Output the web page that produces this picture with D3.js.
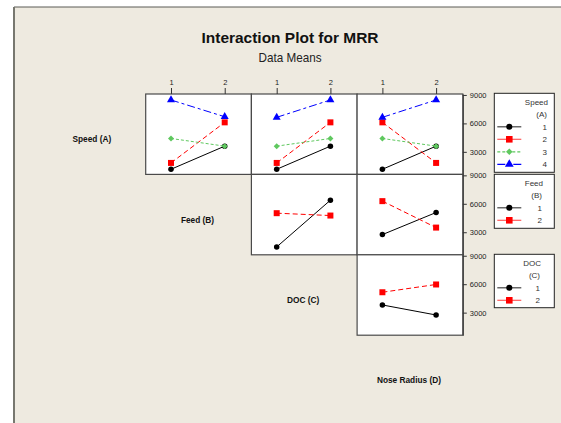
<!DOCTYPE html>
<html>
<head>
<meta charset="utf-8">
<script src="https://cdn.jsdelivr.net/npm/d3@7"></script>
<style>
  html, body { margin: 0; padding: 0; background: #ffffff; }
  svg { display: block; }
  text { font-family: "Liberation Sans", Arial, sans-serif; }
</style>
</head>
<body>
<svg id="chart" width="561" height="423"></svg>
<script>
// ---- data: mean MRR for each pair of factors (levels 1 and 2 on the x axis) ----
const factorNames = ["Speed (A)", "Feed (B)", "DOC (C)", "Nose Radius (D)"];
const xLevels = [1, 2];
const yTicks = [3000, 6000, 9000];

// rows = Speed level 1..4
const speedByFeed  = [[1160, 3600], [1830, 6110], [4410, 3600], [8470, 6700]];
const speedByDoc   = [[1160, 3600], [1830, 6110], [3600, 4410], [6640, 8470]];
const speedByNose  = [[1160, 3600], [6110, 1830], [4410, 3600], [6640, 8470]];
// rows = Feed level 1..2
const feedByDoc    = [[1450, 6380], [5010, 4760]];
const feedByNose   = [[2750, 5080], [6280, 3490]];
// rows = DOC level 1..2
const docByNose    = [[3810, 2750], [5150, 5970]];

const legendTitles = [["Speed", "(A)"], ["Feed", "(B)"], ["DOC", "(C)"]];
const legendLevels = [["1", "2", "3", "4"], ["1", "2"], ["1", "2"]];

// panel table: [row, col, series]
const panels = [
  [0, 0, speedByFeed], [0, 1, speedByDoc], [0, 2, speedByNose],
  [1, 1, feedByDoc],   [1, 2, feedByNose],
  [2, 2, docByNose]
];

// ---- styling for each level of the trace factor ----
const styles = [
  { color: "#000000", dash: null,      symbol: "circle",   key: "#444444", keyDash: null },
  { color: "#ff0000", dash: "5,3",     symbol: "square",   key: "#ff5a5a", keyDash: null },
  { color: "#5fc85f", dash: "3,2",     symbol: "diamond",  key: "#5fc85f", keyDash: "3,2" },
  { color: "#0000ff", dash: "8,3,3,3", symbol: "triangle", key: "#0000ff", keyDash: "8,3,2,3" }
];

const svg = d3.select("#chart");

// page backdrop
svg.append("rect").attr("x", 0).attr("y", 0).attr("width", 561).attr("height", 423).attr("fill", "#ffffff");
svg.append("rect").attr("x", 14).attr("y", 7).attr("width", 547).attr("height", 416).attr("fill", "#eeeae0");
svg.append("line").attr("x1", 14).attr("x2", 561).attr("y1", 7).attr("y2", 7)
  .attr("stroke", "#5a5a55").attr("stroke-width", 1);
svg.append("line").attr("x1", 14).attr("x2", 14).attr("y1", 7).attr("y2", 423)
  .attr("stroke", "#77776f").attr("stroke-width", 2);

// titles
svg.append("text").attr("x", 290).attr("y", 43).attr("text-anchor", "middle")
  .attr("font-size", 15.5).attr("font-weight", "bold").attr("fill", "#111")
  .attr("textLength", 177).attr("lengthAdjust", "spacingAndGlyphs")
  .text("Interaction Plot for MRR");
svg.append("text").attr("x", 290).attr("y", 61.5).attr("text-anchor", "middle")
  .attr("font-size", 13.5).attr("fill", "#222")
  .attr("textLength", 63).attr("lengthAdjust", "spacingAndGlyphs")
  .text("Data Means");

// ---- grid geometry ----
const gridLeft = 145.7, gridTop = 94;
const cellW = 105.7, cellH = 80.4;

const x = d3.scaleLinear().domain([0.529, 2.497]).range([0, cellW]);
const y = d3.scaleLinear().domain([620, 9100]).range([cellH, 0]);

function symbolPath(kind, big) {
  const k = big ? 1.2 : 1;
  if (kind === "circle") return d3.symbol(d3.symbolCircle, 24 * k)();
  if (kind === "square") return d3.symbol(d3.symbolSquare, 36 * k)();
  if (kind === "diamond") return d3.symbol(d3.symbolSquare, 18 * k)();
  return d3.symbol(d3.symbolTriangle, 28 * k)();
}
function symbolRotate(kind) { return kind === "diamond" ? " rotate(45)" : ""; }

const line = d3.line().x((d, i) => x(xLevels[i])).y(d => y(d));

panels.forEach(([r, c, series]) => {
  const g = svg.append("g")
    .attr("transform", `translate(${gridLeft + c * cellW},${gridTop + r * cellH})`);
  g.append("rect").attr("width", cellW).attr("height", cellH)
    .attr("fill", "#ffffff").attr("stroke", "#4a4a4a").attr("stroke-width", 1.2);

  series.forEach((vals, li) => {
    const st = styles[li];
    g.append("path").datum(vals).attr("d", line)
      .attr("fill", "none").attr("stroke", st.color).attr("stroke-width", 1)
      .attr("stroke-dasharray", st.dash);
    g.selectAll(null).data(vals).enter().append("path")
      .attr("d", symbolPath(st.symbol, false))
      .attr("transform", (d, i) => `translate(${x(xLevels[i])},${y(d)})${symbolRotate(st.symbol)}`)
      .attr("fill", st.color);
  });
});

// top axes (factor levels) over the first row
for (let c = 0; c < 3; c++) {
  const ax = svg.append("g")
    .attr("transform", `translate(${gridLeft + c * cellW},${gridTop})`)
    .call(d3.axisTop(x).tickValues(xLevels).tickSize(6).tickSizeOuter(0).tickFormat(d3.format("d")));
  ax.select(".domain").remove();
  ax.selectAll("line").attr("stroke", "#333");
  ax.selectAll("text").attr("font-size", 7.5).attr("fill", "#222")
    .attr("font-family", "Liberation Sans, Arial, sans-serif");
}

// right axes (MRR) for each row
for (let r = 0; r < 3; r++) {
  const ax = svg.append("g")
    .attr("transform", `translate(${gridLeft + 3 * cellW},${gridTop + r * cellH})`)
    .call(d3.axisRight(y).tickValues(yTicks).tickSize(4).tickSizeOuter(0).tickPadding(3).tickFormat(d3.format("d")));
  ax.select(".domain").attr("stroke", "#333");
  ax.selectAll("line").attr("stroke", "#333");
  ax.selectAll("text").attr("font-size", 7.5).attr("fill", "#222")
    .attr("font-family", "Liberation Sans, Arial, sans-serif");
}

// factor names along the diagonal
factorNames.forEach((name, i) => {
  svg.append("text")
    .attr("x", gridLeft + (i - 1) * cellW + cellW / 2 - 1)
    .attr("y", gridTop + i * cellH + cellH / 2 + 8)
    .attr("text-anchor", "middle")
    .attr("font-size", 8.3).attr("font-weight", "bold").attr("fill", "#111")
    .text(name);
});

// ---- legends ----
const legendX = 494.3, legendW = 60;
const legendTops = [93.3, 174.3, 254.3];
const legendHeights = [79, 54, 53.4];
const legendTextRight = [548, 543, 541];

legendTitles.forEach((tt, k) => {
  const g = svg.append("g").attr("transform", `translate(${legendX},${legendTops[k]})`);
  g.append("rect").attr("width", legendW).attr("height", legendHeights[k])
    .attr("fill", "#ffffff").attr("stroke", "#222").attr("stroke-width", 1);
  const tx = legendTextRight[k] - legendX;
  g.append("text").attr("x", tx).attr("y", 12).attr("text-anchor", "end")
    .attr("font-size", 8).attr("fill", "#333").text(tt[0]);
  g.append("text").attr("x", tx - 1).attr("y", 24).attr("text-anchor", "end")
    .attr("font-size", 8).attr("fill", "#333").text(tt[1]);
  legendLevels[k].forEach((lv, i) => {
    const st = styles[i];
    const yy = 33.5 + i * 12.5;
    g.append("line").attr("x1", 3).attr("x2", 27).attr("y1", yy).attr("y2", yy)
      .attr("stroke", st.key).attr("stroke-width", 1.2).attr("stroke-dasharray", st.keyDash);
    g.append("path").attr("d", symbolPath(st.symbol, true))
      .attr("transform", `translate(15,${yy})${symbolRotate(st.symbol)}`)
      .attr("fill", st.color);
    g.append("text").attr("x", tx - 1).attr("y", yy + 3).attr("text-anchor", "end")
      .attr("font-size", 8).attr("fill", "#333").text(lv);
  });
});
</script>
</body>
</html>
